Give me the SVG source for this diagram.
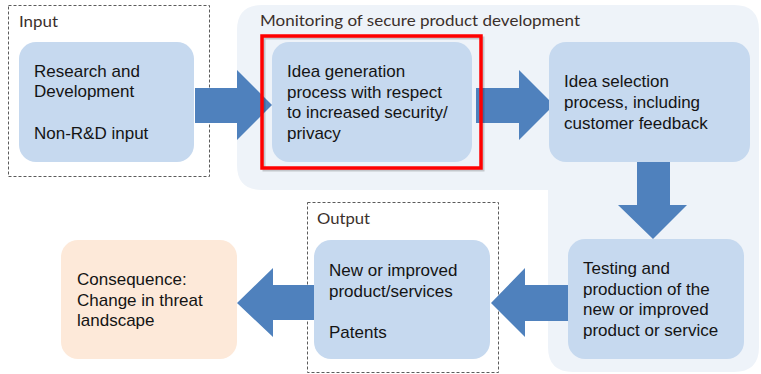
<svg xmlns="http://www.w3.org/2000/svg" width="761" height="374" viewBox="0 0 761 374">
<style>
.node{fill:#C6D9EF}
.cons{fill:#FDE9D9}
.arrow{fill:#4F81BD}
.t{font-family:"Liberation Sans",Arial,sans-serif;font-size:17px;fill:#141414}
.lbl{font-family:Lato,"Liberation Sans",sans-serif;font-size:16px;fill:#3B302C}
.dash{fill:none;stroke:#5A5A5A;stroke-width:1;stroke-dasharray:3 2}
</style>
<rect width="761" height="374" fill="#FFFFFF"/>
<g id="monitoring">
<path d="M262,5 H734 Q759,5 759,30 V347 Q759,372 734,372 H573 Q548,372 548,347 V190 H262 Q237,190 237,165 V30 Q237,5 262,5 Z" fill="#EEF3F9"/>
<text class="lbl" x="260" y="26" textLength="320" lengthAdjust="spacingAndGlyphs">Monitoring of secure product development</text>
</g>
<g id="input-group">
<rect class="dash" x="8.5" y="5.5" width="201" height="171"/>
<text class="lbl" x="19" y="27" textLength="39" lengthAdjust="spacingAndGlyphs">Input</text>
</g>
<g id="output-group">
<rect class="dash" x="307.5" y="202.5" width="191" height="170"/>
<text class="lbl" x="317" y="224" textLength="53" lengthAdjust="spacingAndGlyphs">Output</text>
</g>
<g id="connectors">
<path class="arrow" d="M195,88 H237 V70 L272,105 L237,140 V123 H195 Z"/>
<path class="arrow" d="M476,88 H519 V70 L554,105 L519,140 V123 H476 Z"/>
<path class="arrow" d="M637,162 V205 H618 L653,239 L687,205 H670 V162 Z"/>
<path class="arrow" d="M568,285 H525 V268 L491,303 L525,337 V321 H568 Z"/>
<path class="arrow" d="M314,285 H273 V268 L237,303 L273,337 V320 H314 Z"/>
</g>
<g id="rd">
<rect class="node" x="19" y="42" width="175" height="120" rx="17"/>
<text class="t" x="34" y="77">Research and</text>
<text class="t" x="34" y="97">Development</text>
<text class="t" x="34" y="139">Non-R&amp;D input</text>
</g>
<g id="idea-generation">
<rect class="node" x="272" y="42" width="200" height="120" rx="17"/>
<text class="t" x="287" y="77">Idea generation</text>
<text class="t" x="287" y="97.5">process with respect</text>
<text class="t" x="287" y="118">to increased security/</text>
<text class="t" x="287" y="138.5">privacy</text>
</g>
<g id="highlight">
<rect x="264" y="38" width="219" height="132" fill="none" stroke="#000" stroke-opacity="0.18" stroke-width="3"/>
<rect x="262" y="36" width="219" height="132" fill="none" stroke="#FF0000" stroke-width="3.5"/>
</g>
<g id="idea-selection">
<rect class="node" x="549" y="42" width="201" height="120" rx="17"/>
<text class="t" x="564" y="87">Idea selection</text>
<text class="t" x="564" y="108">process, including</text>
<text class="t" x="564" y="129">customer feedback</text>
</g>
<g id="testing">
<rect class="node" x="568" y="239" width="176" height="120" rx="17"/>
<text class="t" x="583" y="274">Testing and</text>
<text class="t" x="583" y="294.5">production of the</text>
<text class="t" x="583" y="315">new or improved</text>
<text class="t" x="583" y="335.5">product or service</text>
</g>
<g id="output">
<rect class="node" x="314" y="240" width="176" height="119" rx="17"/>
<text class="t" x="329" y="276">New or improved</text>
<text class="t" x="329" y="297">product/services</text>
<text class="t" x="329" y="338">Patents</text>
</g>
<g id="consequence">
<rect class="cons" x="61" y="240" width="176" height="119" rx="17"/>
<text class="t" x="77" y="285">Consequence:</text>
<text class="t" x="77" y="305.5">Change in threat</text>
<text class="t" x="77" y="326">landscape</text>
</g>
</svg>
